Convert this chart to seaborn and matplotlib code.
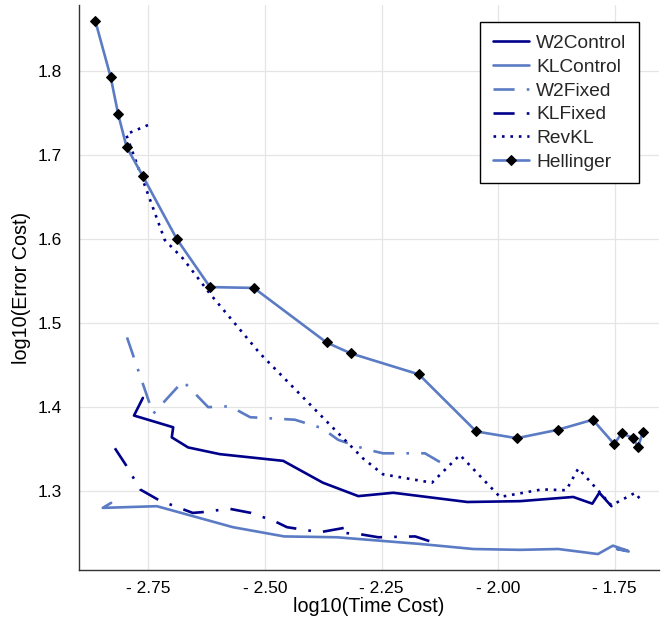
import numpy as np
import pandas as pd
import matplotlib
matplotlib.use("Agg")
import matplotlib.pyplot as plt
import seaborn as sns

# ---------------- data ----------------
hell_x = [-2.864, -2.831, -2.815, -2.797, -2.762, -2.689, -2.618, -2.524, -2.368, -2.316,
          -2.170, -2.047, -1.960, -1.872, -1.797, -1.751, -1.735, -1.710, -1.700, -1.690]
hell_y = [1.860, 1.793, 1.749, 1.710, 1.675, 1.600, 1.543, 1.542, 1.477, 1.464,
          1.439, 1.371, 1.363, 1.373, 1.385, 1.356, 1.369, 1.363, 1.352, 1.370]

revkl_x = [-2.751, -2.798, -2.715, -2.676, -2.618, -2.511, -2.290, -2.247, -2.142, -2.082,
           -1.996, -1.906, -1.854, -1.828, -1.757, -1.706, -1.695]
revkl_y = [1.736, 1.725, 1.599, 1.577, 1.535, 1.464, 1.339, 1.320, 1.310, 1.343,
           1.293, 1.302, 1.301, 1.327, 1.283, 1.298, 1.290]

w2c_x = [-2.762, -2.781, -2.697, -2.700, -2.665, -2.597, -2.461, -2.376, -2.300, -2.225,
         -2.066, -1.953, -1.839, -1.798, -1.783, -1.757]
w2c_y = [1.411, 1.390, 1.376, 1.364, 1.352, 1.344, 1.336, 1.310, 1.294, 1.298,
         1.287, 1.288, 1.293, 1.285, 1.298, 1.282]

klc_x = [-2.830, -2.848, -2.732, -2.569, -2.459, -2.346, -2.167, -2.053, -1.953, -1.871,
         -1.786, -1.754, -1.722, -1.745, -1.720]
klc_y = [1.286, 1.280, 1.282, 1.257, 1.246, 1.245, 1.237, 1.231, 1.230, 1.231,
         1.225, 1.235, 1.229, 1.231, 1.228]

w2f_x = [-2.796, -2.740, -2.676, -2.622, -2.575, -2.532, -2.436, -2.378, -2.343, -2.285,
         -2.247, -2.157, -2.120]
w2f_y = [1.483, 1.392, 1.431, 1.400, 1.401, 1.388, 1.385, 1.375, 1.361, 1.350,
         1.345, 1.345, 1.333]

klf_x = [-2.822, -2.796, -2.768, -2.727, -2.655, -2.633, -2.577, -2.530, -2.479, -2.453,
         -2.382, -2.322, -2.328, -2.300, -2.257, -2.178, -2.129]
klf_y = [1.351, 1.329, 1.302, 1.289, 1.274, 1.275, 1.279, 1.274, 1.264, 1.257,
         1.251, 1.257, 1.250, 1.249, 1.245, 1.246, 1.237]

x_ticks = [-2.75, -2.50, -2.25, -2.00, -1.75]
x_tick_labels = ["- 2.75", "- 2.50", "- 2.25", "- 2.00", "- 1.75"]
y_ticks = [1.3, 1.4, 1.5, 1.6, 1.7, 1.8]
y_tick_labels = ["1.3", "1.4", "1.5", "1.6", "1.7", "1.8"]

# ---------------- style ----------------
sns.set_theme(style="white")
plt.rcParams["font.family"] = ["Liberation Sans", "DejaVu Sans"]

DARK = "#00008b"
LIGHT = "#5b7bc4"
LW = 1.9

fig = plt.figure(figsize=(6.69, 6.20), dpi=100)
ax = fig.add_axes([79 / 669, 1 - 570 / 620, (659 - 79) / 669, (570 - 5) / 620])

def draw(x, y, label, color, dashes=None, marker=None):
    df = pd.DataFrame({"x": x, "y": y})
    sns.lineplot(data=df, x="x", y="y", ax=ax, sort=False, estimator=None,
                 color=color, linewidth=LW, label=label,
                 marker=marker, markersize=4.6 if marker else None,
                 markerfacecolor="black", markeredgecolor="black",
                 dashes=False)
    line = ax.get_lines()[-1]
    if dashes is not None:
        line.set_dashes(dashes)
        line.set_dash_capstyle("butt")
    return line

draw(w2c_x, w2c_y, "W2Control", DARK)
draw(klc_x, klc_y, "KLControl", LIGHT)
draw(w2f_x, w2f_y, "W2Fixed", LIGHT, dashes=(8, 4.6, 1, 4.6))
draw(klf_x, klf_y, "KLFixed", DARK, dashes=(8, 4.6, 1, 4.6))
draw(revkl_x, revkl_y, "RevKL", DARK, dashes=(1, 2.2))
draw(hell_x, hell_y, "Hellinger", LIGHT, marker="D")

ax.set_xlim(-2.899, -1.655)
ax.set_ylim(1.206, 1.879)
ax.set_xticks(x_ticks)
ax.set_xticklabels(x_tick_labels)
ax.set_yticks(y_ticks)
ax.set_yticklabels(y_tick_labels)

ax.grid(True, color="#e5e5e5", linewidth=0.9)
ax.set_axisbelow(True)
for s in ["top", "right"]:
    ax.spines[s].set_visible(False)
for s in ["left", "bottom"]:
    ax.spines[s].set_color("#333333")
    ax.spines[s].set_linewidth(1.0)

ax.tick_params(axis="both", direction="in", length=5, width=1, color="#333333",
               labelsize=12.5, labelcolor="black")
ax.tick_params(axis="x", pad=8)
ax.tick_params(axis="y", pad=12)

ax.set_xlabel("log10(Time Cost)", fontsize=14.2, color="black", labelpad=1)
ax.set_ylabel("log10(Error Cost)", fontsize=14.2, color="black", labelpad=5)

leg = ax.legend(loc="upper right", bbox_to_anchor=(0.9655, 0.970), borderaxespad=0,
                fontsize=13.8, frameon=True, fancybox=False, handlelength=1.9,
                handletextpad=0.35, labelspacing=0.33, borderpad=0.66)
leg.get_frame().set_edgecolor("black")
leg.get_frame().set_linewidth(1.0)
leg.get_frame().set_facecolor("white")
leg.get_frame().set_alpha(1.0)

fig.savefig("out.png", dpi=100)
